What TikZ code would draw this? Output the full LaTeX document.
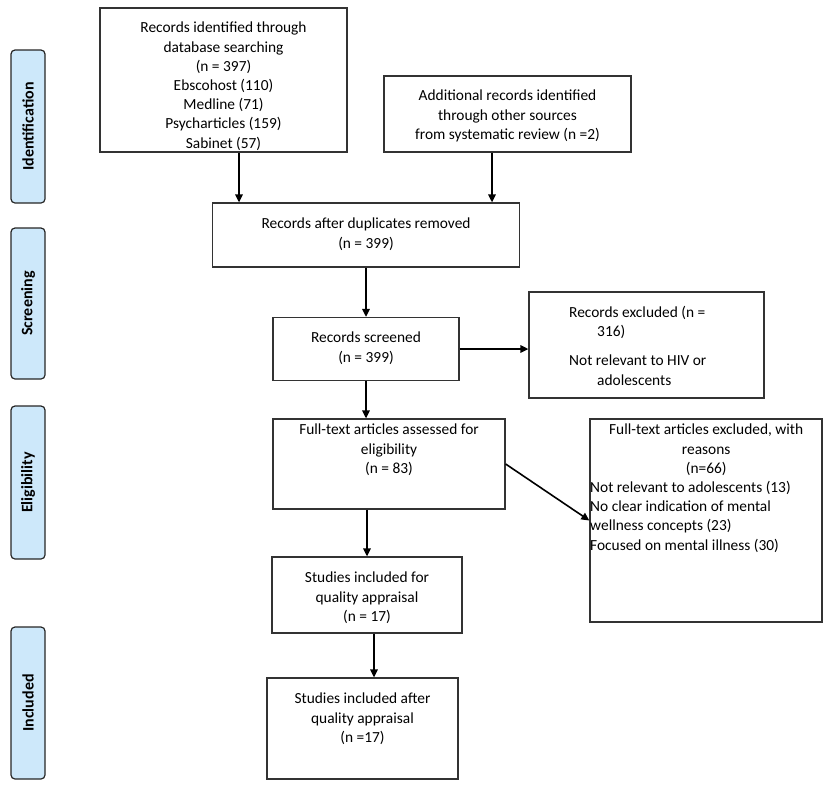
\documentclass[tikz,border=0pt]{standalone}
\usepackage{fontspec}
\setmainfont{Carlito}
\usetikzlibrary{arrows.meta,calc}
\definecolor{lblue}{HTML}{CDE8FA}
\begin{document}
\begin{tikzpicture}[x=1pt,y=-1pt,
  box/.style={draw=black!80, line width=1.3pt, rectangle, inner sep=0pt},
  txt/.style={inner sep=0pt, align=center, font=\fontsize{15.4}{19.2}\selectfont, anchor=north},
  side/.style={draw=black!85, line width=1.2pt, fill=lblue, rounded corners=4pt, inner sep=0pt, rotate=90, minimum height=34pt, font=\bfseries\fontsize{16}{19}\selectfont},
  arr/.style={-{Triangle[length=8pt,width=7.5pt]}, line width=1.6pt}]
\useasboundingbox (0,0) rectangle (829,785);

% side labels
\node[side, minimum width=153pt] (s1) at (28,126.5) {Identification};
\node[side, minimum width=151pt] (s2) at (28,303.5) {Screening};
\node[side, minimum width=153pt] (s3) at (28,482.5) {Eligibility};
\node[side, minimum width=152pt] (s4) at (28,703) {Included};

% boxes
\node[box, minimum width=247pt, minimum height=144pt] (b1) at (223.5,80) {};
\node[box, minimum width=247pt, minimum height=76pt] (b2) at (507.5,114) {};
\node[box, minimum width=307pt, minimum height=64pt] (b3) at (366,235) {};
\node[box, minimum width=186pt, minimum height=63pt] (b4) at (366,349) {};
\node[box, minimum width=235pt, minimum height=106pt] (ex1) at (646.5,345) {};
\node[box, minimum width=232pt, minimum height=90pt] (b5) at (389,464) {};
\node[box, minimum width=232pt, minimum height=203pt] (ex2) at (706,520.5) {};
\node[box, minimum width=190pt, minimum height=76pt] (b6) at (367,595) {};
\node[box, minimum width=191pt, minimum height=101pt] (b7) at (362.5,728.5) {};

% texts
\node[txt] (t1) at (223.5,22) {Records identified through\\database searching\\(n = 397)\\Ebscohost (110)\\Medline (71)\\Psycharticles (159)\\Sabinet (57)};
\node[txt] (t2) at (507.5,90) {Additional records identified\\through other sources\\from systematic review (n =2)};
\node[txt] (t3) at (366,218) {Records after duplicates removed\\(n = 399)};
\node[txt] (t4) at (366,332) {Records screened\\(n = 399)};
\node[txt, anchor=north west, align=left] (tx1) at (569,306) {Records excluded (n =\\\hspace*{28pt}316)\\[10pt]Not relevant to HIV or\\\hspace*{28pt}adolescents};
\node[txt] (t5) at (389,424) {Full-text articles assessed for\\eligibility\\(n = 83)};
\node[txt, anchor=north west] (tx2) at (590,424) {Full-text articles excluded, with\\reasons\\(n=66)\\\makebox[232pt][l]{Not relevant to adolescents (13)}\\\makebox[232pt][l]{No clear indication of mental}\\\makebox[232pt][l]{wellness concepts (23)}\\\makebox[232pt][l]{Focused on mental illness (30)}};
\node[txt] (t6) at (367,572) {Studies included for\\quality appraisal\\(n = 17)};
\node[txt] (t7) at (362.5,693) {Studies included after\\quality appraisal\\(n =17)};

% connectors
\coordinate (a1) at ([xshift=15.5pt]b1.south);
\draw[arr] (a1) -- (a1 |- b3.north);
\coordinate (a2) at ([xshift=-15.5pt]b2.south);
\draw[arr] (a2) -- (a2 |- b3.north);
\draw[arr] (b3.south) -- (b4.north);
\draw[arr] (b4.east) -- (b4.east -| ex1.west);
\draw[arr] (b4.south) -- (b4.south |- b5.north);
\draw[arr] (b5.east) -- (ex2.west);
\draw[arr] (b6.north |- b5.south) -- (b6.north);
\coordinate (a3) at ([xshift=7pt]b6.south);
\draw[arr] (a3) -- (a3 |- b7.north);
\end{tikzpicture}
\end{document}
